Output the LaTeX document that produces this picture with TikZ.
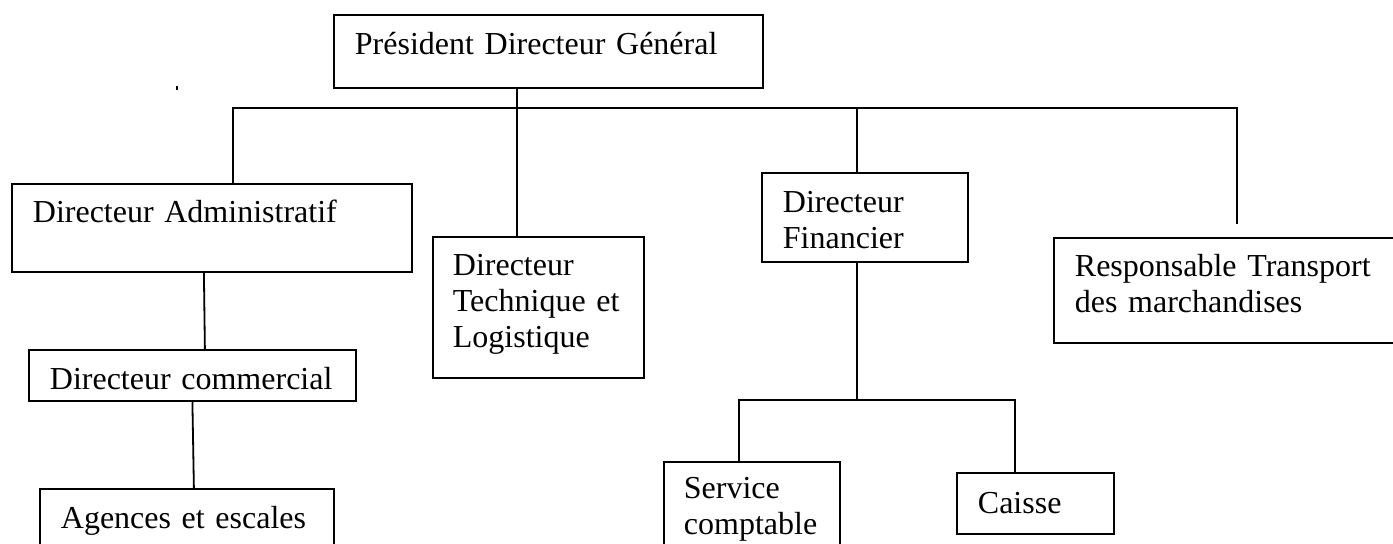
\documentclass[tikz,border=0pt]{standalone}
\usepackage{fontspec}
\setmainfont{Liberation Serif}
\tikzset{
    base/.style={draw, line width=0.9pt, anchor=north west, align=left, inner xsep=10.5pt, inner ysep=0pt, font=\fontsize{16pt}{18pt}\selectfont},
    link/.style={line width=0.9pt, draw=black}
}

\begin{document}
\begin{tikzpicture}[x=0.5pt, y=-0.5pt]
    \useasboundingbox (0,0) rectangle (1393,543);
    \clip (0,0) rectangle (1393,543);

    \node (pdg) [base, text width=193.5pt, text height=20pt, text depth=16.5pt] at (333,14) {Président Directeur Général};
    \node (admin) [base, text width=179pt, text height=19.5pt, text depth=24.5pt] at (11,183) {Directeur Administratif};
    \node (tech) [base, inner xsep=10pt, text width=85.5pt, text height=19.5pt, text depth=51pt] at (432,236) {Directeur\\Technique et\\Logistique};
    \node (fin) [base, text width=82pt, text height=20pt, text depth=24.5pt] at (761,172) {Directeur\\Financier};
    \node (resp) [base, text width=300pt, text height=19.5pt, text depth=33pt] at (1053,237) {Responsable Transport\\des marchandises};
    \node (comm) [base, text width=142.5pt, text height=20pt, text depth=5.5pt] at (28,349) {Directeur commercial};
    \node (agences) [base, text width=126pt, text height=20pt, text depth=16pt] at (39,488) {Agences et escales};
    \node (service) [base, inner xsep=10pt, text width=68pt, text height=18.5pt, text depth=31pt] at (663,461) {Service\\comptable};
    \node (caisse) [base, text width=57.5pt, text height=20.5pt, text depth=10pt] at (956,472) {Caisse};

    \coordinate (jA) at (233,108);
    \coordinate (jT) at (517,108);
    \coordinate (jF) at (857,108);
    \coordinate (jR) at (1237,108);
    \coordinate (rEnd) at (1237,224);
    \coordinate (jS) at (739,400);
    \coordinate (jM) at (857,400);
    \coordinate (jC) at (1015,400);

    \draw [link] (pdg.south -| jT) -- (tech.north -| jT);
    \draw [link] (admin.north -| jA) -- (jA) -- (jR) -- (rEnd);
    \draw [link] (jF) -- (fin.north -| jF);
    \draw [link] ([xshift=-4pt]admin.south) -- ([xshift=6.25pt]comm.north);
    \draw [link] (comm.south) -- ([xshift=3.5pt]agences.north);
    \draw [link] (fin.south -| jM) -- (jM);
    \draw [link] (service.north -| jS) -- (jS) -- (jC) -- (caisse.north -| jC);

    \fill (176,86) rectangle (178,90);
\end{tikzpicture}
\end{document}
